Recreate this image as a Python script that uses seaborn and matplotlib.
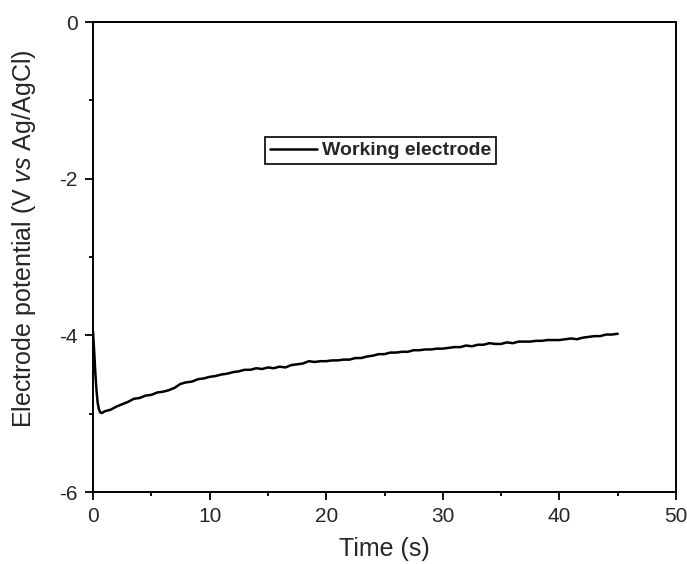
import matplotlib
matplotlib.use("Agg")
import matplotlib.pyplot as plt
import seaborn as sns
import pandas as pd
from matplotlib.ticker import MultipleLocator

time_s = [0.0, 0.1, 0.2, 0.3, 0.4, 0.5, 0.6, 0.7, 0.8, 1.0,
          1.5, 2.0, 2.5, 3.0, 3.5, 4.0, 4.5, 5.0, 5.5, 6.0,
          6.5, 7.0, 7.5, 8.0, 8.5, 9.0, 9.5, 10.0, 10.5, 11.0,
          11.5, 12.0, 12.5, 13.0, 13.5, 14.0, 14.5, 15.0, 15.5, 16.0,
          16.5, 17.0, 17.5, 18.0, 18.5, 19.0, 19.5, 20.0, 20.5, 21.0,
          21.5, 22.0, 22.5, 23.0, 23.5, 24.0, 24.5, 25.0, 25.5, 26.0,
          26.5, 27.0, 27.5, 28.0, 28.5, 29.0, 29.5, 30.0, 30.5, 31.0,
          31.5, 32.0, 32.5, 33.0, 33.5, 34.0, 34.5, 35.0, 35.5, 36.0,
          36.5, 37.0, 37.5, 38.0, 38.5, 39.0, 39.5, 40.0, 40.5, 41.0,
          41.5, 42.0, 42.5, 43.0, 43.5, 44.0, 44.5, 45.0]
potential_v = [-3.95, -4.20, -4.48, -4.70, -4.86, -4.94, -4.98, -4.99, -4.99, -4.97,
               -4.95, -4.91, -4.88, -4.85, -4.81, -4.80, -4.77, -4.76, -4.73, -4.72,
               -4.70, -4.67, -4.62, -4.60, -4.59, -4.56, -4.55, -4.53, -4.52, -4.50,
               -4.49, -4.47, -4.46, -4.44, -4.44, -4.42, -4.43, -4.41, -4.42, -4.40,
               -4.41, -4.38, -4.37, -4.36, -4.33, -4.34, -4.33, -4.33, -4.32, -4.32,
               -4.31, -4.31, -4.29, -4.29, -4.27, -4.26, -4.24, -4.24, -4.22, -4.22,
               -4.21, -4.21, -4.19, -4.19, -4.18, -4.18, -4.17, -4.17, -4.16, -4.15,
               -4.15, -4.13, -4.14, -4.12, -4.12, -4.10, -4.11, -4.11, -4.09, -4.10,
               -4.08, -4.08, -4.08, -4.07, -4.07, -4.06, -4.06, -4.06, -4.05, -4.04,
               -4.05, -4.03, -4.02, -4.01, -4.01, -3.99, -3.99, -3.98]
series_label = "Working electrode"

sns.set_style("white")
plt.rcParams["font.family"] = ["Liberation Sans", "DejaVu Sans"]
plt.rcParams["mathtext.fontset"] = "custom"
plt.rcParams["mathtext.rm"] = "Liberation Sans"
plt.rcParams["mathtext.it"] = "Liberation Sans:italic"
plt.rcParams["axes.unicode_minus"] = False

df = pd.DataFrame({"t": time_s, "v": potential_v})

fig = plt.figure(figsize=(6.87, 5.64), dpi=100)
ax = fig.add_axes([93/687, 1 - 492/564, 583/687, 470/564])

sns.lineplot(data=df, x="t", y="v", color="black", linewidth=1.8,
             label=series_label, ax=ax)

ax.set_xlim(0, 50)
ax.set_ylim(-6, 0)
ax.xaxis.set_major_locator(MultipleLocator(10))
ax.xaxis.set_minor_locator(MultipleLocator(5))
ax.yaxis.set_major_locator(MultipleLocator(2))
ax.yaxis.set_minor_locator(MultipleLocator(1))
ax.tick_params(which="major", direction="out", length=6, width=1.3,
               labelsize=15, color="black", pad=5, bottom=True, left=True)
ax.tick_params(which="minor", direction="out", length=3, width=1.3,
               color="black", bottom=True, left=True)
for s in ax.spines.values():
    s.set_visible(True)
    s.set_color("black")
    s.set_linewidth(1.4)

ax.set_xlabel("Time (s)", fontsize=18, labelpad=8)
ax.set_ylabel("Electrode potential (V $\\mathit{vs}$ Ag/AgCl)", fontsize=18)
ax.yaxis.set_label_coords((38 - 93) / 583, (492 - 239) / 470)

leg = ax.legend(loc="upper left", bbox_to_anchor=((265-93)/583, (492-137)/470),
                borderaxespad=0, frameon=True, fancybox=False, framealpha=1,
                edgecolor="black", handlelength=2.4, handletextpad=0.3,
                borderpad=0.25, prop={"weight": "bold", "size": 14})
leg.get_frame().set_linewidth(1.2)

fig.savefig("out.png", dpi=100)
